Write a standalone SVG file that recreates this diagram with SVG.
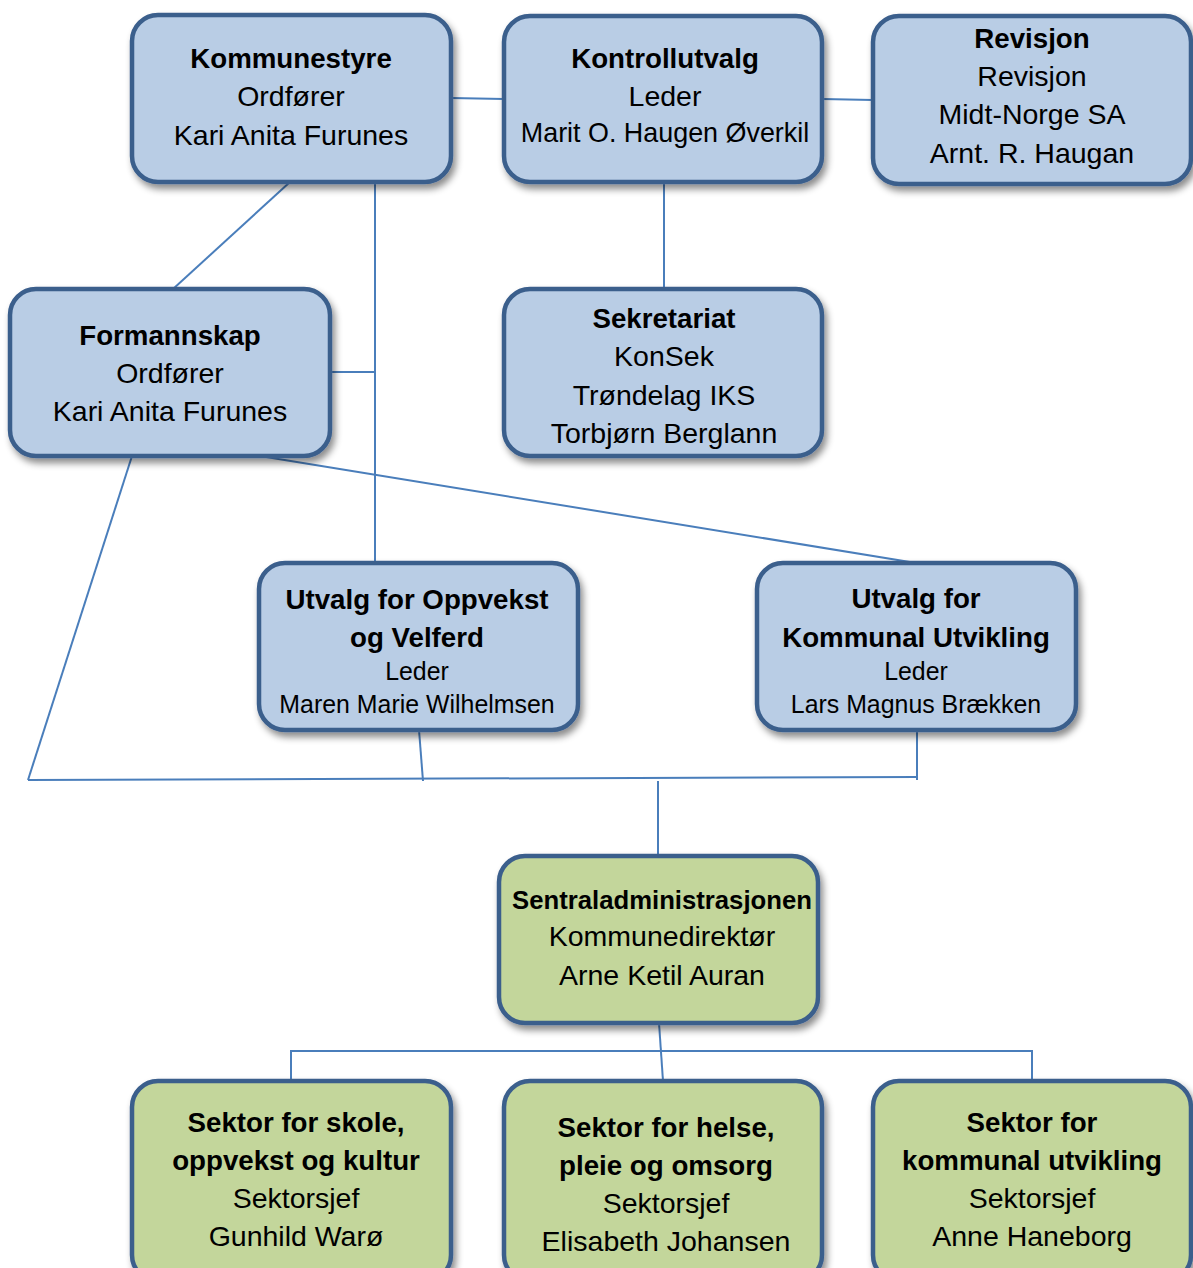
<svg xmlns="http://www.w3.org/2000/svg" width="1193" height="1268" viewBox="0 0 1193 1268">
<defs>
<filter id="sh" x="-10%" y="-10%" width="125%" height="130%">
<feDropShadow dx="3" dy="5" stdDeviation="3.5" flood-color="#000" flood-opacity="0.45"/>
</filter>
<style>
.b{fill:#B9CDE5;stroke:#3A5E8C;stroke-width:4.5;filter:url(#sh)}
.g{fill:#C3D69B;stroke:#3A5E8C;stroke-width:4.5;filter:url(#sh)}
.c{stroke:#4A7EBB;stroke-width:2;fill:none}
text{font-family:"Liberation Sans",Arial,sans-serif;font-size:28.5px;fill:#000;text-anchor:middle}
.t{font-weight:bold;font-size:27.7px}
.s{font-size:24.9px}
.m{font-size:26.9px}
.t.m{font-size:25.7px}
</style>
</defs>
<rect width="1193" height="1268" fill="#fff"/>
<g id="connectors">
<line class="c" x1="451" y1="98" x2="504" y2="99"/>
<line class="c" x1="822" y1="99" x2="873" y2="100"/>
<line class="c" x1="290" y1="182" x2="173" y2="289"/>
<line class="c" x1="375" y1="182" x2="375" y2="563"/>
<line class="c" x1="330" y1="372" x2="375" y2="372"/>
<line class="c" x1="664" y1="182" x2="664" y2="289"/>
<line class="c" x1="260" y1="456" x2="916" y2="563"/>
<line class="c" x1="132" y1="456" x2="28" y2="780"/>
<line class="c" x1="28" y1="780" x2="917" y2="777"/>
<line class="c" x1="419" y1="730" x2="423" y2="781"/>
<line class="c" x1="917" y1="730" x2="917" y2="780"/>
<line class="c" x1="658" y1="781" x2="658" y2="856"/>
<line class="c" x1="659" y1="1023" x2="663" y2="1081"/>
<polyline class="c" points="291,1081 291,1051 1032,1051 1032,1081"/>
</g>
<g id="kommunestyre">
<rect class="b" x="132" y="15" width="319" height="167" rx="26"/>
<text x="291" y="68" class="t">Kommunestyre</text>
<text x="291" y="106">Ordfører</text>
<text x="291" y="145">Kari Anita Furunes</text>
</g>
<g id="kontrollutvalg">
<rect class="b" x="504" y="16" width="318" height="166" rx="26"/>
<text x="665" y="68" class="t">Kontrollutvalg</text>
<text x="665" y="106">Leder</text>
<text x="665" y="142" class="m">Marit O. Haugen Øverkil</text>
</g>
<g id="revisjon">
<rect class="b" x="873" y="16" width="318" height="168" rx="26"/>
<text x="1032" y="48" class="t">Revisjon</text>
<text x="1032" y="86">Revisjon</text>
<text x="1032" y="124">Midt-Norge SA</text>
<text x="1032" y="163">Arnt. R. Haugan</text>
</g>
<g id="formannskap">
<rect class="b" x="10" y="289" width="320" height="167" rx="26"/>
<text x="170" y="345" class="t">Formannskap</text>
<text x="170" y="383">Ordfører</text>
<text x="170" y="421">Kari Anita Furunes</text>
</g>
<g id="sekretariat">
<rect class="b" x="504" y="289" width="318" height="167" rx="26"/>
<text x="664" y="328" class="t">Sekretariat</text>
<text x="664" y="366">KonSek</text>
<text x="664" y="405">Trøndelag IKS</text>
<text x="664" y="443">Torbjørn Berglann</text>
</g>
<g id="utvalg-oppvekst">
<rect class="b" x="259" y="563" width="319" height="167" rx="26"/>
<text x="417" y="609" class="t">Utvalg for Oppvekst</text>
<text x="417" y="647" class="t">og Velferd</text>
<text x="417" y="680" class="s">Leder</text>
<text x="417" y="713" class="s">Maren Marie Wilhelmsen</text>
</g>
<g id="utvalg-kommunal">
<rect class="b" x="757" y="563" width="319" height="167" rx="26"/>
<text x="916" y="608" class="t">Utvalg for</text>
<text x="916" y="647" class="t">Kommunal Utvikling</text>
<text x="916" y="680" class="s">Leder</text>
<text x="916" y="713" class="s">Lars Magnus Brækken</text>
</g>
<g id="sentraladministrasjonen">
<rect class="g" x="499" y="856" width="319" height="167" rx="26"/>
<text x="662" y="909" class="t m">Sentraladministrasjonen</text>
<text x="662" y="946">Kommunedirektør</text>
<text x="662" y="985">Arne Ketil Auran</text>
</g>
<g id="sektor-skole">
<rect class="g" x="132" y="1081" width="319" height="200" rx="26"/>
<text x="296" y="1132" class="t">Sektor for skole,</text>
<text x="296" y="1170" class="t">oppvekst og kultur</text>
<text x="296" y="1208">Sektorsjef</text>
<text x="296" y="1246">Gunhild Warø</text>
</g>
<g id="sektor-helse">
<rect class="g" x="504" y="1081" width="318" height="200" rx="26"/>
<text x="666" y="1137" class="t">Sektor for helse,</text>
<text x="666" y="1175" class="t">pleie og omsorg</text>
<text x="666" y="1213">Sektorsjef</text>
<text x="666" y="1251">Elisabeth Johansen</text>
</g>
<g id="sektor-kommunal">
<rect class="g" x="873" y="1081" width="318" height="200" rx="26"/>
<text x="1032" y="1132" class="t">Sektor for</text>
<text x="1032" y="1170" class="t">kommunal utvikling</text>
<text x="1032" y="1208">Sektorsjef</text>
<text x="1032" y="1246">Anne Haneborg</text>
</g>
</svg>
